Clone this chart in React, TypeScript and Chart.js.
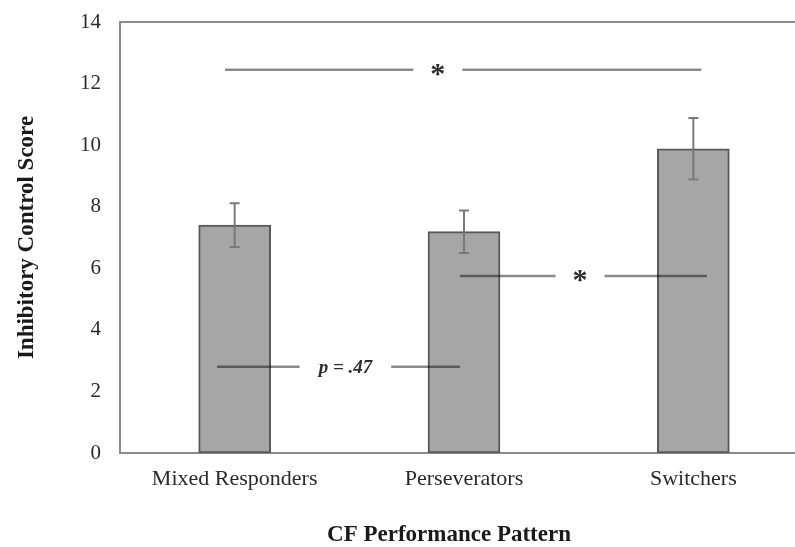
import { useEffect, useRef } from 'react';
import { Chart, registerables } from 'chart.js';

Chart.register(...registerables);

const categories = ['Mixed Responders', 'Perseverators', 'Switchers'];
const means = [7.4, 7.19, 9.88];
const errors = [0.71, 0.69, 1.0];
const yMin = 0;
const yMax = 14;
const yStep = 2;

// significance comparisons (x in category units, y in score units)
const compLabels = ['*', '*', 'p = .47'];
const compLevels = [12.45, 5.75, 2.8];
const compStart = [-0.042, 0.982, -0.077];
const compEnd = [2.035, 2.059, 0.982];
const compLabelAt = [0.886, 1.506, 0.483];

const xTitle = 'CF Performance Pattern';
const yTitle = 'Inhibitory Control Score';

const SERIF = '"Liberation Serif", "Times New Roman", serif';

export default function App() {
  const ref = useRef<HTMLCanvasElement | null>(null);

  useEffect(() => {
    if (!ref.current) return;

    const catPx = (chart: any, f: number) => {
      const x = chart.scales.x;
      const p0 = x.getPixelForValue(0);
      const p1 = x.getPixelForValue(1);
      return p0 + f * (p1 - p0);
    };

    const framePlugin = {
      id: 'frame',
      beforeDatasetsDraw(chart: any) {
        const { ctx, chartArea: a } = chart;
        ctx.save();
        ctx.strokeStyle = '#8c8c8c';
        ctx.lineWidth = 2;
        ctx.strokeRect(a.left, a.top, a.right - a.left, a.bottom - a.top);
        ctx.restore();
      },
    };

    const errorPlugin = {
      id: 'errorBars',
      afterDatasetsDraw(chart: any) {
        const { ctx } = chart;
        const y = chart.scales.y;
        const meta = chart.getDatasetMeta(0);
        ctx.save();
        ctx.strokeStyle = '#7a7a7a';
        ctx.lineWidth = 2;
        meta.data.forEach((bar: any, i: number) => {
          const cx = bar.x;
          const top = y.getPixelForValue(means[i] + errors[i]);
          const bot = y.getPixelForValue(means[i] - errors[i]);
          ctx.beginPath();
          ctx.moveTo(cx, top);
          ctx.lineTo(cx, bot);
          ctx.moveTo(cx - 5, top);
          ctx.lineTo(cx + 5, top);
          ctx.moveTo(cx - 5, bot);
          ctx.lineTo(cx + 5, bot);
          ctx.stroke();
        });
        ctx.restore();
      },
    };

    const compPlugin = {
      id: 'comparisons',
      afterDatasetsDraw(chart: any) {
        const { ctx } = chart;
        const y = chart.scales.y;
        ctx.save();
        compLabels.forEach((label, i) => {
          const yy = y.getPixelForValue(compLevels[i]);
          const x0 = catPx(chart, compStart[i]);
          const x1 = catPx(chart, compEnd[i]);
          const xm = catPx(chart, compLabelAt[i]);
          const isStar = label === '*';
          ctx.font = isStar ? `bold 30px ${SERIF}` : `italic bold 19px ${SERIF}`;
          const m = ctx.measureText(label);
          const w = isStar ? m.actualBoundingBoxLeft + m.actualBoundingBoxRight : m.width;
          const half = w / 2 + (isStar ? 18 : 19);
          ctx.strokeStyle = 'rgba(0,0,0,0.46)';
          ctx.lineWidth = 2.5;
          ctx.beginPath();
          ctx.moveTo(x0, yy);
          ctx.lineTo(xm - half, yy);
          ctx.moveTo(xm + half, yy);
          ctx.lineTo(x1, yy);
          ctx.stroke();
          ctx.fillStyle = '#2e2e2e';
          ctx.textAlign = 'center';
          ctx.textBaseline = 'alphabetic';
          const asc = m.actualBoundingBoxAscent;
          const desc = m.actualBoundingBoxDescent;
          const base = isStar ? yy + (asc - desc) / 2 : yy + 6;
          ctx.fillText(label, xm, base);
        });
        ctx.restore();
      },
    };

    const xTitlePlugin = {
      id: 'xTitle',
      afterDraw(chart: any) {
        const { ctx } = chart;
        ctx.save();
        ctx.font = `bold 23px ${SERIF}`;
        ctx.fillStyle = '#1a1a1a';
        ctx.textAlign = 'center';
        ctx.textBaseline = 'middle';
        ctx.fillText(xTitle, 449, 535);
        ctx.restore();
      },
    };

    const chart = new Chart(ref.current, {
      type: 'bar',
      data: {
        labels: categories,
        datasets: [
          {
            data: means,
            backgroundColor: '#a6a6a6',
            borderColor: '#595959',
            borderWidth: 2,
            borderSkipped: false,
            barThickness: 72,
          },
        ],
      },
      options: {
        responsive: false,
        animation: false,
        events: [],
        layout: { padding: { left: 0, top: 22, right: 22, bottom: 0 } },
        plugins: {
          legend: { display: false },
          tooltip: { enabled: false },
        },
        scales: {
          x: {
            grid: { display: false, drawTicks: false },
            border: { display: false },
            ticks: {
              color: '#2a2a2a',
              font: { family: SERIF, size: 22 },
              padding: 13,
              maxRotation: 0,
            },
            afterFit(scale: any) {
              scale.height = 94;
              scale.paddingLeft = 0;
              scale.paddingRight = 0;
            },
          },
          y: {
            min: yMin,
            max: yMax,
            grid: { display: false, drawTicks: false },
            border: { display: false },
            ticks: {
              stepSize: yStep,
              color: '#2a2a2a',
              font: { family: SERIF, size: 21 },
              padding: 19,
            },
            title: {
              display: true,
              text: yTitle,
              color: '#1a1a1a',
              font: { family: SERIF, size: 23, weight: 'bold' },
              padding: { top: 13, bottom: 0 },
            },
            afterFit(scale: any) {
              scale.width = 120;
              scale.paddingTop = 0;
              scale.paddingBottom = 0;
            },
          },
        },
      },
      plugins: [framePlugin, errorPlugin, compPlugin, xTitlePlugin],
    });

    return () => chart.destroy();
  }, []);

  return (
    <div
      style={{
        position: 'fixed',
        left: 0,
        top: 0,
        width: 795,
        height: 547,
        overflow: 'hidden',
        background: '#ffffff',
      }}
    >
      <canvas ref={ref} width={830} height={547} style={{ display: 'block' }} />
    </div>
  );
}
